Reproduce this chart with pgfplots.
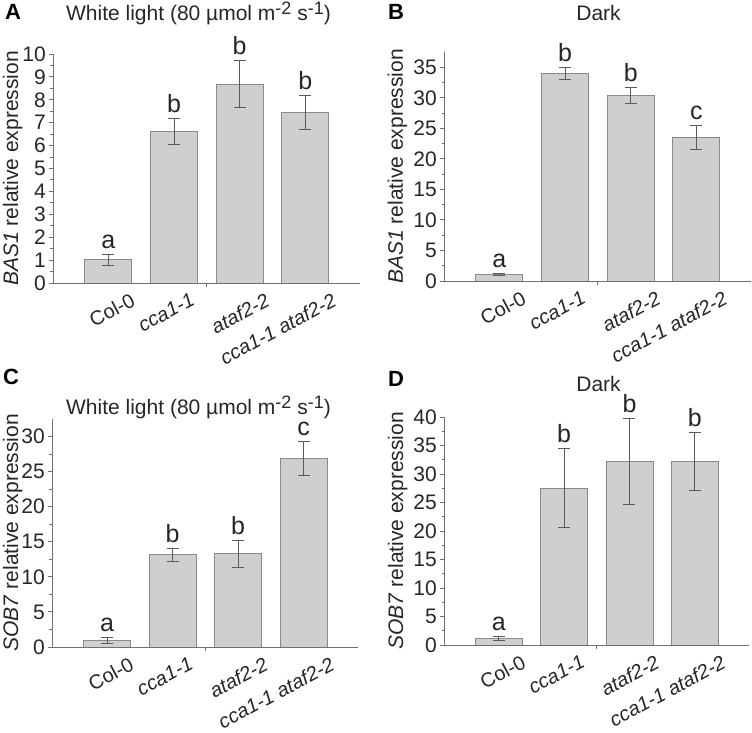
\documentclass[border=0pt]{standalone}
\usepackage{pgfplots}
\pgfplotsset{compat=1.18}
\usepackage{fontspec}
\setmainfont{Liberation Sans}
\definecolor{barfill}{HTML}{CFCFCF}
\definecolor{baredge}{HTML}{8A8A8A}
\definecolor{errcol}{HTML}{5A5A5A}
\definecolor{axcol}{HTML}{707070}
\definecolor{txtcol}{HTML}{262626}
\newcommand{\fs}[1]{\fontsize{#1bp}{#1bp}\selectfont}
\newcommand{\sups}[1]{\raisebox{6.5bp}{\fs{18}#1}}
\pgfplotsset{
  panel/.style={
    scale only axis,
    axis lines=left,
    axis line style={-, draw=axcol, line width=0.9bp},
    every tick/.style={draw=axcol, line width=0.9bp},
    tick align=outside,
    major tick length=4bp, minor tick length=2.5bp,
    xmin=-0.84, xmax=3.83, ymin=0,
    xtick={-0.038,0.871,2.008,3.023},
    xticklabels={Col-0,\textit{cca1-1},\textit{ataf2-2},\textit{cca1-1 ataf2-2}},
    xtick style={draw=none},
    extra x ticks={1.5}, extra x tick labels={},
    extra x tick style={xtick style={draw=axcol}},
    minor y tick num=1,
    /pgf/number format/assume math mode=true,
    yticklabel style={font=\fs{21}, text=txtcol, inner sep=0pt, xshift=-3bp},
    xticklabel style={font=\fs{20}, text=txtcol, inner sep=0pt, xshift=24bp, yshift=-5bp, rotate=28, anchor=north east},
    ylabel style={font=\fs{21}, text=txtcol, inner sep=0pt, anchor=base},
  },
  bars/.style={ybar, bar width=47bp, fill=barfill, draw=baredge, line width=0.9bp,
    error bars/.cd, y dir=both, y explicit,
    error bar style={line width=0.9bp, draw=errcol},
    error mark options={rotate=90, mark size=6bp, line width=0.9bp, draw=errcol}},
  lets/.style={draw=none, mark=none, nodes near coords, point meta=explicit symbolic,
    nodes near coords style={font=\fs{25}, text=txtcol, anchor=base, inner sep=0pt, yshift=6bp}},
}
\pgfplotstableread{
x y e t l
0 1.02 0.24 1.26 a
1 6.61 0.57 7.18 b
2 8.69 1.04 9.73 b
3 7.45 0.74 8.19 b
}\dataA
\pgfplotstableread{
x y e t l
0 1.09 0.20 1.29 a
1 34.00 0.93 34.93 b
2 30.37 1.35 31.72 b
3 23.54 2.00 25.54 c
}\dataB
\pgfplotstableread{
x y e t l
0 0.95 0.38 1.33 a
1 13.14 0.90 14.04 b
2 13.29 1.90 15.19 b
3 26.90 2.40 29.30 c
}\dataC
\pgfplotstableread{
x y e t l
0 1.17 0.30 1.47 a
1 27.50 6.90 34.40 b
2 32.20 7.50 39.70 b
3 32.20 5.10 37.30 b
}\dataD
\begin{document}
\begin{tikzpicture}
% Panel A
\begin{axis}[panel, at={(53bp,450bp)}, anchor=south west, width=307bp, height=229bp,
  ymax=10, ytick={0,1,...,10},
  ylabel={\textit{BAS1} relative expression},
  ylabel style={at={(axis description cs:-0.114,0.5)}}]
\addplot[bars] table[x=x, y=y, y error=e] {\dataA};
\addplot[lets] table[x=x, y=t, meta=l] {\dataA};
\end{axis}
% Panel B
\begin{axis}[panel, at={(444bp,452bp)}, anchor=south west, width=307bp, height=229bp,
  ymax=37.5, ytick={0,5,...,35},
  ylabel={\textit{BAS1} relative expression},
  ylabel style={at={(axis description cs:-0.134,0.5)}}]
\addplot[bars] table[x=x, y=y, y error=e] {\dataB};
\addplot[lets] table[x=x, y=t, meta=l] {\dataB};
\end{axis}
% Panel C
\begin{axis}[panel, at={(52bp,86bp)}, anchor=south west, width=306bp, height=228bp,
  ymax=32.5, ytick={0,5,...,30},
  ylabel={\textit{SOB7} relative expression},
  ylabel style={at={(axis description cs:-0.111,0.5)}}]
\addplot[bars] table[x=x, y=y, y error=e] {\dataC};
\addplot[lets] table[x=x, y=t, meta=l] {\dataC};
\end{axis}
% Panel D
\begin{axis}[panel, at={(444bp,88bp)}, anchor=south west, width=305bp, height=228bp,
  ymax=40, ytick={0,5,...,40},
  ylabel={\textit{SOB7} relative expression},
  ylabel style={at={(axis description cs:-0.134,0.5)}}]
\addplot[bars] table[x=x, y=y, y error=e] {\dataD};
\addplot[lets] table[x=x, y=t, meta=l] {\dataD};
\end{axis}
% titles and panel letters
\node[anchor=base, font=\fs{21}, text=txtcol, inner sep=0pt] at (198.5bp,712bp) {White light (80 µmol m\sups{-2} s\sups{-1})};
\node[anchor=base, font=\fs{21}, text=txtcol, inner sep=0pt] at (598.5bp,712bp) {Dark};
\node[anchor=base, font=\fs{21}, text=txtcol, inner sep=0pt] at (198.5bp,318bp) {White light (80 µmol m\sups{-2} s\sups{-1})};
\node[anchor=base, font=\fs{21}, text=txtcol, inner sep=0pt] at (598.5bp,341bp) {Dark};
\node[anchor=base west, font=\fs{22}\bfseries, inner sep=0pt] at (5bp,713bp) {A};
\node[anchor=base west, font=\fs{22}\bfseries, inner sep=0pt] at (388bp,713bp) {B};
\node[anchor=base west, font=\fs{22}\bfseries, inner sep=0pt] at (3bp,348bp) {C};
\node[anchor=base west, font=\fs{22}\bfseries, inner sep=0pt] at (388bp,346bp) {D};
\pgfresetboundingbox
\path (0,0) rectangle (752bp,733bp);
\end{tikzpicture}
\end{document}
